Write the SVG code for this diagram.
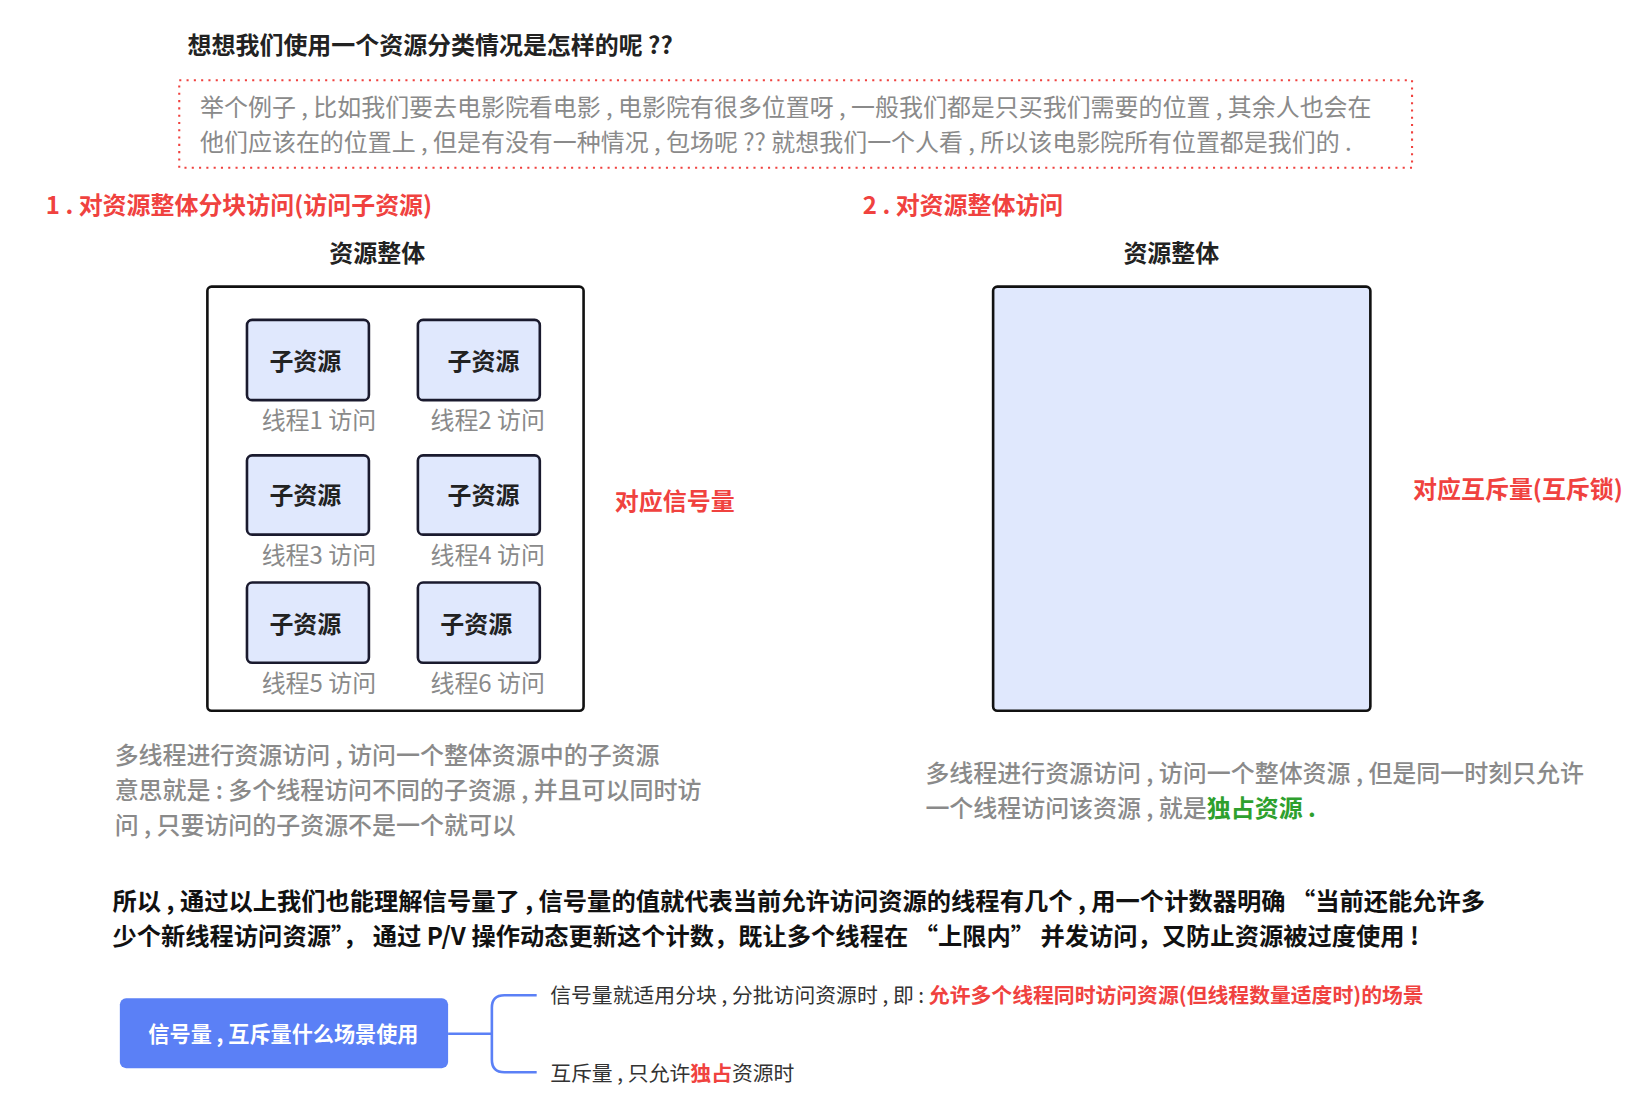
<svg xmlns="http://www.w3.org/2000/svg" width="1634" height="1100" viewBox="0 0 1634 1100">
<style>
text{font-family:"Noto Sans CJK SC","Noto Sans",sans-serif}
.t{font-size:23px;font-weight:bold;fill:#222}
.red{font-size:23px;font-weight:bold;fill:#f0423f}
.g{font-size:23px;fill:#8a8a8a}
.gm{font-size:23px;font-weight:500;fill:#8a8a8a}
.sub{fill:#e0e8fd;stroke:#1a1a2e;stroke-width:2.5}
.st{font-size:23px;font-weight:bold;fill:#222;text-anchor:middle}
.lb{font-size:23px;fill:#8a8a8a;text-anchor:middle}
.b{font-size:23.3px;font-weight:bold;fill:#111}
.s{font-size:20px;fill:#333}
</style>
<rect width="1634" height="1100" fill="#fff"/>
<g transform="scale(1.0421)">
<g id="title"><text class="t" x="180" y="52">想想我们使用一个资源分类情况是怎样的呢 ??</text></g>
<g id="example">
<rect x="172" y="77" width="1183" height="84" fill="none" stroke="#f0423f" stroke-width="2" stroke-dasharray="2 5"/>
<text class="g" x="192" y="111">举个例子 , 比如我们要去电影院看电影 , 电影院有很多位置呀 , 一般我们都是只买我们需要的位置 , 其余人也会在</text>
<text class="g" x="192" y="145">他们应该在的位置上 , 但是有没有一种情况 , 包场呢 ?? 就想我们一个人看 , 所以该电影院所有位置都是我们的 .</text>
</g>
<text class="red" x="44" y="205">1 . 对资源整体分块访问(访问子资源)</text>
<text class="red" x="828" y="205">2 . 对资源整体访问</text>
<g id="left">
<text class="st" x="362" y="251">资源整体</text>
<rect x="199" y="275" width="361" height="407" rx="4" fill="#fff" stroke="#111" stroke-width="2.5"/>
<g id="s1"><rect class="sub" x="237" y="307" width="117" height="77" rx="5"/><text class="st" x="293" y="355">子资源</text><text class="lb" x="306" y="412">线程1 访问</text></g>
<g id="s2"><rect class="sub" x="401" y="307" width="117" height="77" rx="5"/><text class="st" x="464" y="355">子资源</text><text class="lb" x="468" y="412">线程2 访问</text></g>
<g id="s3"><rect class="sub" x="237" y="437" width="117" height="76" rx="5"/><text class="st" x="293" y="484">子资源</text><text class="lb" x="306" y="541">线程3 访问</text></g>
<g id="s4"><rect class="sub" x="401" y="437" width="117" height="76" rx="5"/><text class="st" x="464" y="484">子资源</text><text class="lb" x="468" y="541">线程4 访问</text></g>
<g id="s5"><rect class="sub" x="237" y="559" width="117" height="77" rx="5"/><text class="st" x="293" y="607">子资源</text><text class="lb" x="306" y="664">线程5 访问</text></g>
<g id="s6"><rect class="sub" x="401" y="559" width="117" height="77" rx="5"/><text class="st" x="457" y="607">子资源</text><text class="lb" x="468" y="664">线程6 访问</text></g>
</g>
<text class="red" x="590" y="489">对应信号量</text>
<g id="right">
<text class="st" x="1124" y="251">资源整体</text>
<rect x="953" y="275" width="362" height="407" rx="4" fill="#e0e8fd" stroke="#111" stroke-width="2.5"/>
</g>
<text class="red" x="1356" y="478">对应互斥量(互斥锁)</text>
<text class="gm" x="110" y="733">多线程进行资源访问 , 访问一个整体资源中的子资源</text>
<text class="gm" x="110" y="767">意思就是 : 多个线程访问不同的子资源 , 并且可以同时访</text>
<text class="gm" x="110" y="800">问 , 只要访问的子资源不是一个就可以</text>
<text class="gm" x="888" y="750">多线程进行资源访问 , 访问一个整体资源 , 但是同一时刻只允许</text>
<text class="gm" x="888" y="784">一个线程访问该资源 , 就是<tspan fill="#2ea02e" font-weight="bold">独占资源 .</tspan></text>
<text class="b" x="108" y="873">所以 , 通过以上我们也能理解信号量了 , 信号量的值就代表当前允许访问资源的线程有几个 , 用一个计数器明确 “当前还能允许多</text>
<text class="b" x="108" y="907">少个新线程访问资源”， 通过 P/V 操作动态更新这个计数，既让多个线程在 “上限内” 并发访问，又防止资源被过度使用 !</text>
<g id="root"><rect x="115" y="958" width="315" height="67" rx="6" fill="#5b80f6"/><text x="272" y="1000" text-anchor="middle" font-size="20.3" font-weight="bold" fill="#fff">信号量 , 互斥量什么场景使用</text></g>
<g id="connectors" fill="none" stroke="#5b80f6" stroke-width="2.5"><path d="M430 992H472M515 955H484Q472 955 472 967V1017Q472 1029 484 1029H515"/></g>
<g id="c1"><text class="s" x="528" y="962">信号量就适用分块 , 分批访问资源时 , 即 : <tspan fill="#f0423f" font-weight="bold">允许多个线程同时访问资源(但线程数量适度时)的场景</tspan></text></g>
<g id="c2"><text class="s" x="528" y="1037">互斥量 , 只允许<tspan fill="#f0423f" font-weight="bold">独占</tspan>资源时</text></g>
</g>
</svg>
